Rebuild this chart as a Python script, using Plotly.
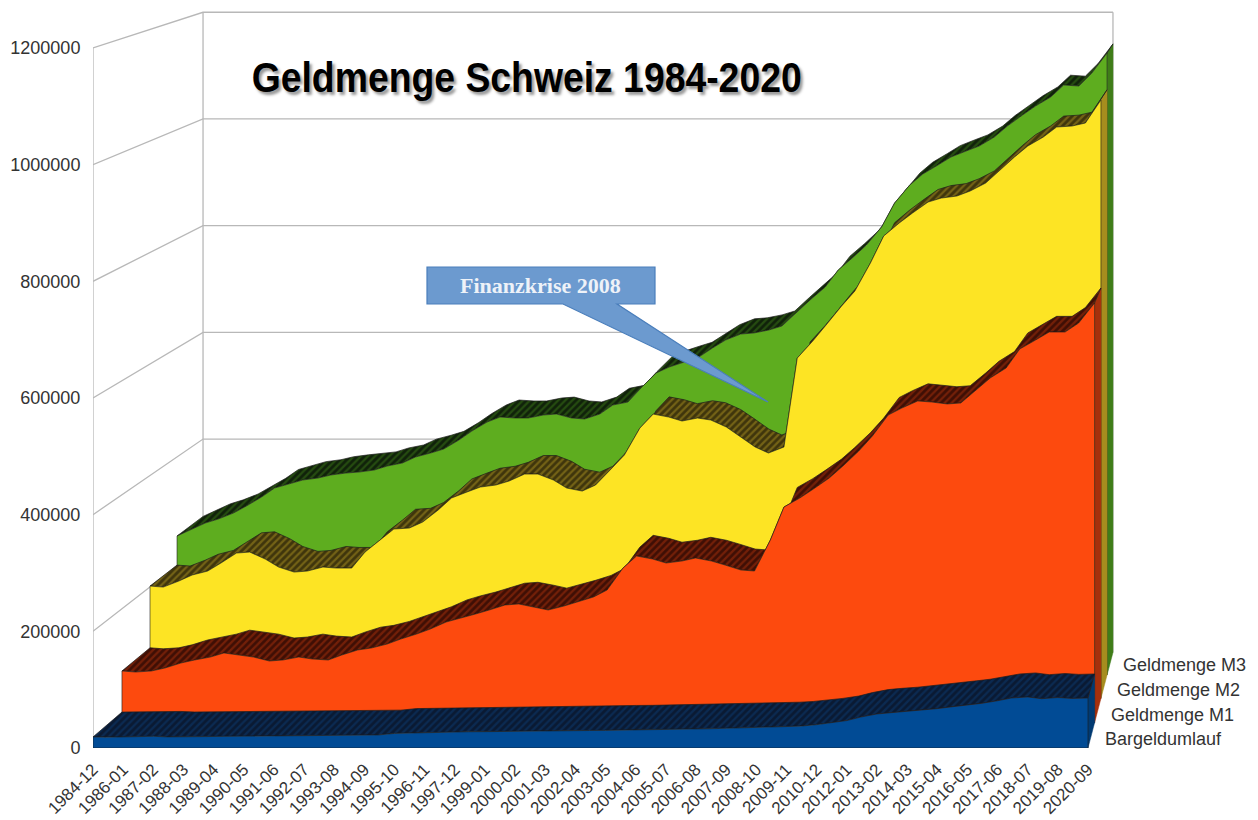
import plotly.graph_objects as go

TICK_LABELS = ["1984-12","1986-01","1987-02","1988-03","1989-04","1990-05","1991-06","1992-07","1993-08",
    "1994-09","1995-10","1996-11","1997-12","1999-01","2000-02","2001-03","2002-04","2003-05","2004-06",
    "2005-07","2006-08","2007-09","2008-10","2009-11","2010-12","2012-01","2013-02","2014-03","2015-04",
    "2016-05","2017-06","2018-07","2019-08","2020-09"]
Y_TICKS = [0,200000,400000,600000,800000,1000000,1200000]

# month index of each reading (half a tick label apart)
MONTHS = [0,6,13,19,26,32,39,45,52,58,65,71,78,84,91,97,104,110,117,123,130,136,143,149,156,162,169,175,182,188,
    195,201,208,214,221,227,234,240,247,253,260,266,273,279,286,292,299,305,312,318,325,331,338,344,351,357,364,370,
    377,383,390,396,403,409,416,422,429]

BARGELD = [18900,18400,18900,19500,20000,19000,19200,19600,20000,20200,20600,20300,20600,21000,21000,21400,21800,21600,
    22000,22300,25000,25700,26500,27000,27400,27800,28000,28400,28600,28800,29000,29100,29500,30000,30200,30500,30700,30900,
    31300,31800,32500,33000,33800,34300,35000,35500,36200,37500,40000,42900,47000,53000,58300,60500,62500,65100,67500,70500,
    73700,76500,81000,85700,87500,84500,86500,85000,85700]
M1 = [90900,89100,90900,96200,104900,110200,115400,122500,119000,115400,108400,110200,115400,111900,110200,119000,127800,131200,
    138200,147000,155800,164500,176800,183900,190900,197900,206700,208400,203200,197900,204900,211900,220700,233000,271500,292600,
    287300,280300,283800,289100,283800,276800,268000,266300,320600,378500,394300,410100,429400,450400,476700,503000,539900,552100,
    564400,562700,559200,560900,583700,604800,622300,655600,671400,685400,685400,701200,736300]
M2 = [201600,199800,210600,221400,228500,242900,260800,262600,250000,235700,226700,228500,235700,233900,233900,262600,284100,303900,
    305700,316400,338000,359500,370300,379200,382800,390000,402500,402500,391800,377400,372000,382800,411500,436600,485000,510100,
    504800,497600,503000,499400,486900,470700,451000,440200,451000,610600,641100,669800,703900,730800,781000,829500,852800,870700,
    890400,897600,901200,910200,924500,946000,971200,990900,1007000,1025000,1026800,1032200,1073400]
M3 = [254900,265900,278700,286000,297000,309900,326400,342900,350200,357600,361200,366800,370400,372200,375900,383300,388800,399800,
    407100,414400,430900,447400,463900,473100,471300,471300,476800,478600,471300,469500,478600,495100,500600,526300,553800,564800,
    574000,581300,599700,614300,625300,627200,632700,640000,665700,687700,711500,742700,766600,788600,821600,865600,898600,918800,
    935300,950000,961000,970100,986600,1006800,1027000,1043500,1060000,1082000,1080200,1104000,1140700]

SERIES_NAMES = ["Bargeldumlauf","Geldmenge M1","Geldmenge M2","Geldmenge M3"]
TITLE = "Geldmenge Schweiz 1984-2020"
CALLOUT = "Finanzkrise 2008"

LAST = 429
YMAX = 1200000
L, R, T, B = 93, 1088, 48, 748
VX = (1380 - L) / (R - L) * LAST
VY = (B + 370) / (B - T) * YMAX
DEPTH = [1.0, 0.9775, 0.9557, 0.9347, 0.9145]

def px(m, v, s):
    return VX + (m - VX) * s, VY + (v - VY) * s

def ax(x_pixel):
    return (x_pixel - L) / (R - L) * LAST
def ay(y_pixel):
    return (B - y_pixel) / (B - T) * YMAX

STYLES = [
    dict(front="#014b95", bg="#0a1a33", fg="#0c3a70", side="#013a72"),
    dict(front="#fd4a0e", bg="#3f0f05", fg="#a8300c", side="#a5300c"),
    dict(front="#fde424", bg="#3f350c", fg="#a88f20", side="#a68d1e"),
    dict(front="#5ead1f", bg="#10220a", fg="#3a7516", side="#3f7d18"),
]
EDGE = "#1c1c1c"
WALL = "#b8b8b8"
AREA_RIGHT, AREA_TOP = 1135, 10

fig = go.Figure()

def line(xs, ys, color=WALL, width=1.3):
    fig.add_trace(go.Scatter(x=xs, y=ys, mode="lines", line=dict(color=color, width=width),
                             hoverinfo="skip", showlegend=False, cliponaxis=False))

# walls and grid
back = DEPTH[-1]
for v in Y_TICKS:
    a = px(0, v, 1.0); b = px(0, v, back); c = px(LAST, v, back)
    line([a[0], b[0], c[0]], [a[1], b[1], c[1]])
for m, s in [(0, 1.0), (0, back), (LAST, back)]:
    a = px(m, 0, s); b = px(m, YMAX, s)
    line([a[0], b[0]], [a[1], b[1]])

# slabs, back to front
values = [BARGELD, M1, M2, M3]
for i in [3, 2, 1, 0]:
    st = STYLES[i]; vals = values[i]
    s0, s1 = DEPTH[i], DEPTH[i + 1]
    f = [px(m, v, s0) for m, v in zip(MONTHS, vals)]
    k = [px(m, v, s1) for m, v in zip(MONTHS, vals)]
    # right side face
    a = px(LAST, 0, s0); b = px(LAST, 0, s1)
    fig.add_trace(go.Scatter(x=[a[0], b[0], k[-1][0], f[-1][0], a[0]], y=[a[1], b[1], k[-1][1], f[-1][1], a[1]],
                             mode="lines", fill="toself", fillcolor=st["side"], line=dict(color=st["side"], width=0.5),
                             hoverinfo="skip", showlegend=False, cliponaxis=False))
    # top face
    tx = [p[0] for p in f] + [p[0] for p in reversed(k)] + [f[0][0]]
    ty = [p[1] for p in f] + [p[1] for p in reversed(k)] + [f[0][1]]
    fig.add_trace(go.Scatter(x=tx, y=ty, mode="lines", fill="toself", fillcolor=st["bg"],
                             fillpattern=dict(shape="/", bgcolor=st["bg"], fgcolor=st["fg"], size=5, solidity=0.45),
                             line=dict(color=EDGE, width=0.7), hoverinfo="skip", showlegend=False, cliponaxis=False))
    # front face
    z0 = px(0, 0, s0); z1 = px(LAST, 0, s0)
    fx = [z0[0]] + [p[0] for p in f] + [z1[0], z0[0]]
    fy = [z0[1]] + [p[1] for p in f] + [z1[1], z0[1]]
    fig.add_trace(go.Scatter(x=fx, y=fy, mode="lines", fill="toself", fillcolor=st["front"],
                             line=dict(color=EDGE, width=0.6), name=SERIES_NAMES[i],
                             hoverinfo="skip", showlegend=False, cliponaxis=False))

def poly(points):
    return "M " + " L ".join(f"{ax(x):.3f} {ay(y):.1f}" for x, y in points) + " Z"

CALL_FILL = "#6c9acf"; CALL_LINE = "#4a7ebb"
shapes = [dict(type="path", xref="x", yref="y", fillcolor=CALL_FILL, line=dict(color=CALL_LINE, width=1.2),
               path=poly([(427,267),(655,267),(655,304),(617,304),(768,402),(563,304),(427,304)]))]

annotations = [
    dict(x=ax(526), y=ay(77), xref="x", yref="y", text=TITLE, showarrow=False, xanchor="center", yanchor="middle",
         font=dict(family="Liberation Sans", size=43, color="#000000", weight="bold", shadow="3px 3px 3px #999999")),
    dict(x=ax(540), y=ay(285), xref="x", yref="y", text=CALLOUT, showarrow=False, xanchor="center", yanchor="middle",
         font=dict(family="Liberation Serif", size=22, color="#eef2f8", weight="bold")),
]
for name, x0, y0 in zip(SERIES_NAMES, [1105, 1111, 1117, 1123], [739, 715, 690, 665]):
    annotations.append(dict(x=ax(x0), y=ay(y0), xref="x", yref="y", text=name, showarrow=False,
                            xanchor="left", yanchor="middle", xshift=-2,
                            font=dict(family="Liberation Sans", size=18, color="#333333")))

fig.update_layout(
    width=1258, height=820, margin=dict(l=L, r=1258 - AREA_RIGHT, t=AREA_TOP, b=820 - B, pad=0),
    plot_bgcolor="white", paper_bgcolor="white", showlegend=False,
    shapes=shapes, annotations=annotations,
    font=dict(family="Liberation Sans", size=18, color="#333333"),
    xaxis=dict(range=[0, ax(AREA_RIGHT)], tickmode="array", tickvals=[13 * k for k in range(len(TICK_LABELS))],
               ticktext=TICK_LABELS, tickangle=-45, showgrid=False, zeroline=False, ticks="outside", automargin=False,
               ticklen=4, tickcolor="rgba(0,0,0,0)", showline=False,
               tickfont=dict(size=17, color="#333333")),
    yaxis=dict(range=[0, ay(AREA_TOP)], tickmode="array", tickvals=Y_TICKS, showgrid=False, zeroline=False, ticks="outside", automargin=False,
               ticklen=8, tickcolor="rgba(0,0,0,0)", showline=False, tickformat="d",
               tickfont=dict(size=18, color="#333333")),
)
post = """
document.body.style.margin='0';
document.querySelectorAll('text').forEach(function(t){
  if(t.textContent==='%s'){t.setAttribute('textLength','550');t.setAttribute('lengthAdjust','spacingAndGlyphs');}
});
""" % TITLE
fig.write_html("out.html", post_script=post, config=dict(displayModeBar=False))
